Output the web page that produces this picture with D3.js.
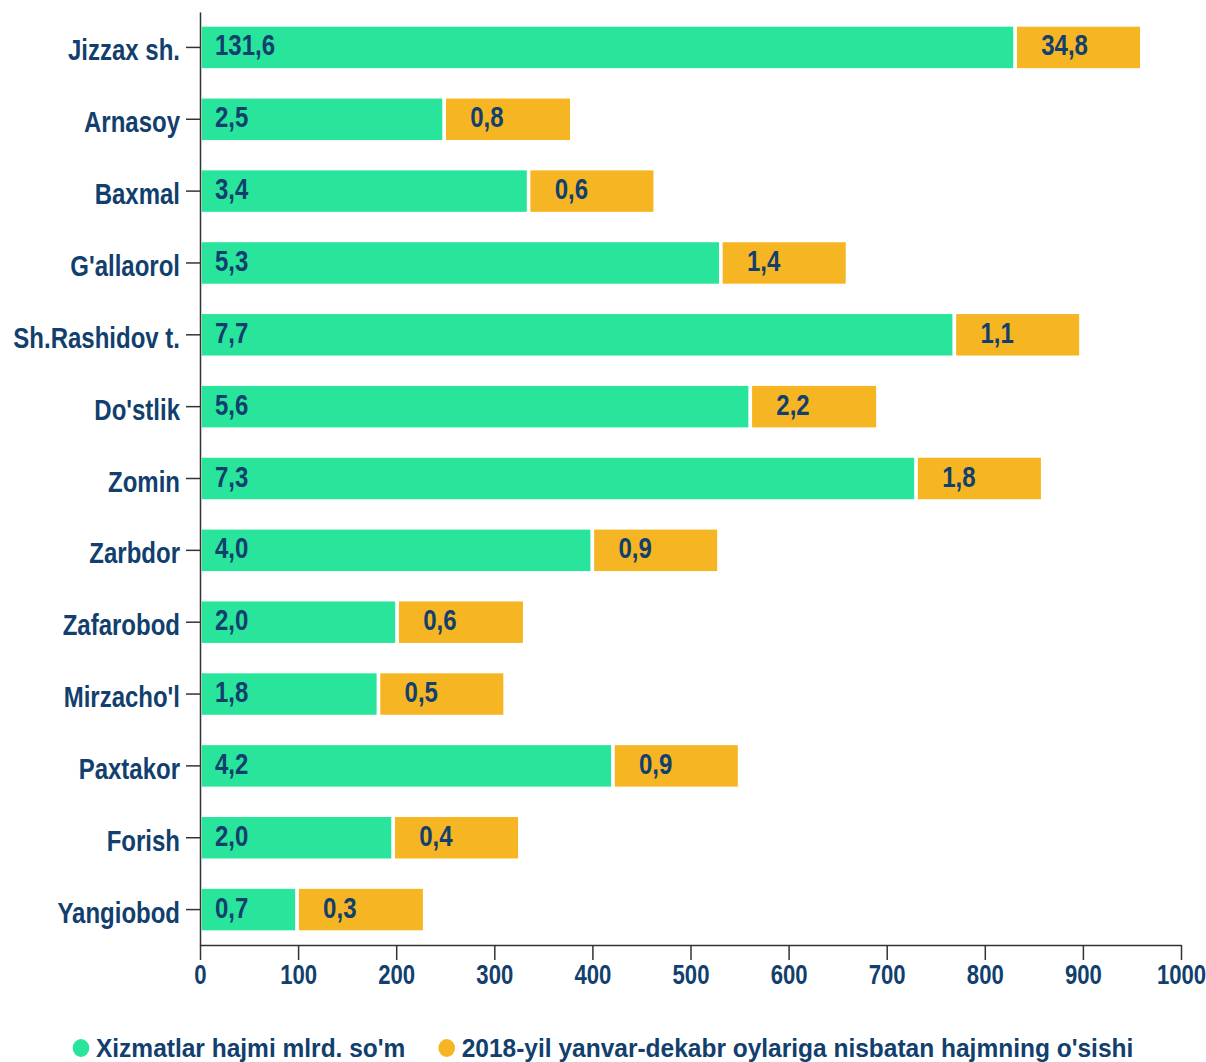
<!DOCTYPE html>
<html>
<head>
<meta charset="utf-8">
<script src="https://cdn.jsdelivr.net/npm/d3@7"></script>
<style>
  body { margin: 0; background: #fff; }
  text { font-family: "Liberation Sans", Arial, sans-serif; font-weight: bold; fill: #123f6e; }
</style>
</head>
<body>
<script>
// regions, top to bottom
var regions = ["Jizzax sh.", "Arnasoy", "Baxmal", "G'allaorol", "Sh.Rashidov t.", "Do'stlik",
               "Zomin", "Zarbdor", "Zafarobod", "Mirzacho'l", "Paxtakor", "Forish", "Yangiobod"];

// printed values
var volumeText = ["131,6", "2,5", "3,4", "5,3", "7,7", "5,6", "7,3", "4,0", "2,0", "1,8", "4,2", "2,0", "0,7"];
var growthText = ["34,8", "0,8", "0,6", "1,4", "1,1", "2,2", "1,8", "0,9", "0,6", "0,5", "0,9", "0,4", "0,3"];

// bar lengths as drawn on the axis
var volumeLength = [831, 249, 335, 531, 769, 561, 730, 400, 201, 182, 421, 197, 99];
var growthLength = [129, 130, 129, 129, 129, 130, 129, 129, 130, 129, 129, 129, 130];

var xTicks = [0, 100, 200, 300, 400, 500, 600, 700, 800, 900, 1000];

var legendLabels = ["Xizmatlar hajmi mlrd. so'm", "2018-yil yanvar-dekabr oylariga nisbatan hajmning o'sishi"];

var green = "#28e59b", orange = "#f6b623", axisColor = "#333";
var width = 1206, height = 1062;

var data = regions.map(function(r, i) {
  return {region: r, vol: volumeLength[i], gro: growthLength[i], volText: volumeText[i], groText: growthText[i]};
});

var x = d3.scaleLinear()
    .domain([0, 1000])
    .range([200, 1181]);

var y = d3.scaleBand()
    .domain(regions)
    .range([12, 945])
    .paddingInner(0.374)
    .paddingOuter(0.18);

var svg = d3.select("body").append("svg")
    .attr("width", width)
    .attr("height", height);

var row = svg.selectAll(".row")
    .data(data)
  .enter().append("g")
    .attr("class", "row");

row.append("rect")
    .attr("x", x(0))
    .attr("y", function(d) { return y(d.region); })
    .attr("width", function(d) { return x(d.vol) - x(0); })
    .attr("height", y.bandwidth())
    .attr("fill", green)
    .attr("stroke", "#fff")
    .attr("stroke-width", 3.5);

row.append("rect")
    .attr("x", function(d) { return x(d.vol); })
    .attr("y", function(d) { return y(d.region); })
    .attr("width", function(d) { return x(d.vol + d.gro) - x(d.vol); })
    .attr("height", y.bandwidth())
    .attr("fill", orange)
    .attr("stroke", "#fff")
    .attr("stroke-width", 3.5);

// value labels (the source font is a narrow one, so squeeze horizontally)
row.append("text")
    .attr("transform", function(d) {
      return "translate(" + (x(0) + 15) + "," + (y(d.region) + y.bandwidth() / 2 + 8) + ") scale(0.8,1)";
    })
    .style("font-size", "30px")
    .text(function(d) { return d.volText; });

row.append("text")
    .attr("transform", function(d) {
      return "translate(" + (x(d.vol) + 26) + "," + (y(d.region) + y.bandwidth() / 2 + 8) + ") scale(0.8,1)";
    })
    .style("font-size", "30px")
    .text(function(d) { return d.groText; });

// axes
var xAxis = svg.append("g")
    .attr("transform", "translate(0,945)")
    .call(d3.axisBottom(x)
      .tickValues(xTicks)
      .tickSize(15)
      .tickSizeOuter(0)
      .tickFormat(d3.format("d")));

xAxis.selectAll("text")
    .attr("y", 39)
    .attr("dy", null)
    .attr("transform", "scale(0.82,1)")
    .style("font-size", "27px");

var yAxis = svg.append("g")
    .attr("transform", "translate(200,0)")
    .call(d3.axisLeft(y)
      .tickSize(14)
      .tickSizeOuter(0));

yAxis.selectAll("text")
    .attr("x", null)
    .attr("dy", null)
    .attr("y", 13)
    .attr("transform", "translate(-20,0) scale(0.8,1)")
    .style("font-size", "30px");

svg.selectAll(".domain, .tick line")
    .attr("stroke", axisColor)
    .attr("stroke-width", 1.5);

// legend, centred under the chart
var legend = svg.append("g");

var items = legend.selectAll("g")
    .data(legendLabels)
  .enter().append("g");

items.append("ellipse")
    .attr("rx", 8.3)
    .attr("ry", 9)
    .attr("fill", function(d, i) { return [green, orange][i]; });

items.append("text")
    .attr("transform", "translate(15,9) scale(0.98,1)")
    .style("font-size", "25px")
    .text(function(d) { return d; });

var offsets = [], pos = 0;
items.each(function() {
  var w = this.querySelector("text").getComputedTextLength() * 0.98;
  offsets.push(pos);
  pos += 8.3 + 15 + w + 33;
});
var total = pos - 33;
var start = width / 2 - total / 2 + 8.3;

items.attr("transform", function(d, i) { return "translate(" + (start + offsets[i]) + ",1048)"; });
</script>
</body>
</html>
